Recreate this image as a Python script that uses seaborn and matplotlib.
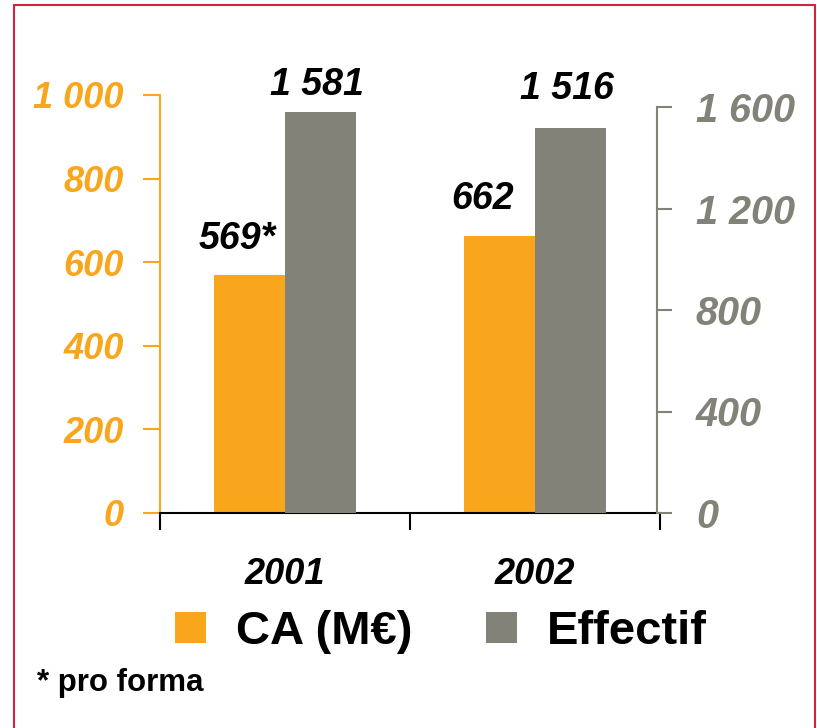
import pandas as pd
import matplotlib
matplotlib.use("Agg")
import matplotlib.pyplot as plt
from matplotlib.ticker import FuncFormatter
from matplotlib.patches import Patch
from matplotlib.lines import Line2D
import seaborn as sns

# Data
years = ["2001", "2002"]
ca_values = [569, 662]          # CA (M€), left axis
effectif_values = [1581, 1516]  # Effectif, right axis
ca_labels = ["569*", "662"]
effectif_labels = ["1 581", "1 516"]
left_ticks = [0, 200, 400, 600, 800, 1000]
right_ticks = [0, 400, 800, 1200, 1600]
series = ["CA (M€)", "Effectif"]

# label offsets in points (dx, dy) as placed in the original
ca_offsets = [(-9, 13), (-12, 14)]
eff_offsets = [(-3, 6), (-3, 15)]

ORANGE = "#F9A61C"
GRAY = "#838278"
BORDER = "#D4213D"

sns.set_theme(style="white")
plt.rcParams["font.family"] = ["Liberation Sans", "DejaVu Sans"]
plt.rcParams["font.weight"] = "bold"
plt.rcParams["font.style"] = "italic"
plt.rcParams["text.color"] = "black"

df_ca = pd.DataFrame({"year": years, "value": ca_values, "series": series[0]})
df_eff = pd.DataFrame({"year": years, "value": effectif_values, "series": series[1]})
palette = {series[0]: ORANGE, series[1]: GRAY}

fig = plt.figure(figsize=(8.17, 7.28), dpi=100)
ax = fig.add_axes([160 / 817, (728 - 513) / 728, 500 / 817, (513 - 95) / 728])
ax2 = ax.twinx()

sns.barplot(data=df_ca, x="year", y="value", hue="series", hue_order=series,
            palette=palette, width=0.57, dodge=True, ax=ax, legend=False,
            linewidth=0, order=years, saturation=1)
sns.barplot(data=df_eff, x="year", y="value", hue="series", hue_order=series,
            palette=palette, width=0.57, dodge=True, ax=ax2, legend=False,
            linewidth=0, order=years, saturation=1)

ax.set_ylim(0, 1000)
ax2.set_ylim(0, 1600 * (513 - 95) / (513 - 107))
ax.set_xlim(-0.5, 1.5)

fmt = FuncFormatter(lambda v, p: f"{v:,.0f}".replace(",", " "))

ax.set_yticks(left_ticks)
ax.yaxis.set_major_formatter(fmt)
ax.tick_params(axis="y", colors=ORANGE, length=12, width=1.5, pad=14, labelsize=26)
ax2.set_yticks(right_ticks)
ax2.yaxis.set_major_formatter(fmt)
ax2.tick_params(axis="y", colors=GRAY, length=11, width=1.5, pad=17, labelsize=28.5)

# x axis: boundary ticks, labels at group centres
ax.set_xticks([-0.5, 0.5, 1.5])
ax.set_xticklabels(["", "", ""])
ax.set_xticks([0, 1], minor=True)
ax.set_xticklabels(years, minor=True, fontsize=26, color="black")
ax.tick_params(axis="x", which="major", length=12, width=1.5, color="black", bottom=True)
ax.tick_params(axis="x", which="minor", length=0, pad=32)
ax2.tick_params(axis="x", length=0)
ax.set_xlabel("")
ax.set_ylabel("")
ax2.set_xlabel("")
ax2.set_ylabel("")

for a in (ax, ax2):
    a.spines["top"].set_visible(False)
ax.spines["right"].set_visible(False)
ax2.spines["left"].set_visible(False)
ax2.spines["bottom"].set_visible(False)
ax.spines["left"].set_color(ORANGE)
ax.spines["left"].set_linewidth(1.5)
ax.spines["left"].set_bounds(0, 1000)
ax.spines["bottom"].set_color("black")
ax.spines["bottom"].set_linewidth(1.5)
ax2.spines["right"].set_color(GRAY)
ax2.spines["right"].set_linewidth(1.5)
ax2.spines["right"].set_bounds(0, 1600)
ax2.spines["right"].set_position(("axes", 0.994))

# value labels
label_font = dict(fontsize=27, color="black")
for cont in ax.containers:
    if len(cont) and cont[0].get_height() > 0:
        texts = ax.bar_label(cont, labels=ca_labels, **label_font)
        for t, off in zip(texts, ca_offsets):
            t.xyann = off
for cont in ax2.containers:
    if len(cont) and cont[0].get_height() > 0:
        texts = ax2.bar_label(cont, labels=effectif_labels, **label_font)
        for t, off in zip(texts, eff_offsets):
            t.xyann = off

# legend
handles = [Patch(facecolor=ORANGE, edgecolor="none"), Patch(facecolor=GRAY, edgecolor="none")]
leg = fig.legend(handles, series, loc="center", bbox_to_anchor=(441 / 817, 1 - 632 / 728),
                 ncol=2, frameon=False, prop=dict(size=34, weight="bold", style="normal"),
                 handlelength=0.65, handleheight=0.65, handletextpad=0.65, columnspacing=1.55)
for t in leg.get_texts():
    t.set_color("black")

fig.text(37 / 817, 1 - 683 / 728, "* pro forma", fontsize=22.5, fontweight="bold",
         fontstyle="normal", color="black", ha="left", va="center")

# frame around the chart (open at the bottom)
bx0, bx1, by1 = 14 / 817, 815 / 817, 1 - 5 / 728
for xs, ys in [([bx0, bx0], [0, by1]), ([bx0, bx1], [by1, by1]), ([bx1, bx1], [by1, 0])]:
    fig.add_artist(Line2D(xs, ys, color=BORDER, linewidth=1.5, transform=fig.transFigure))

fig.savefig("out.png", dpi=100)
